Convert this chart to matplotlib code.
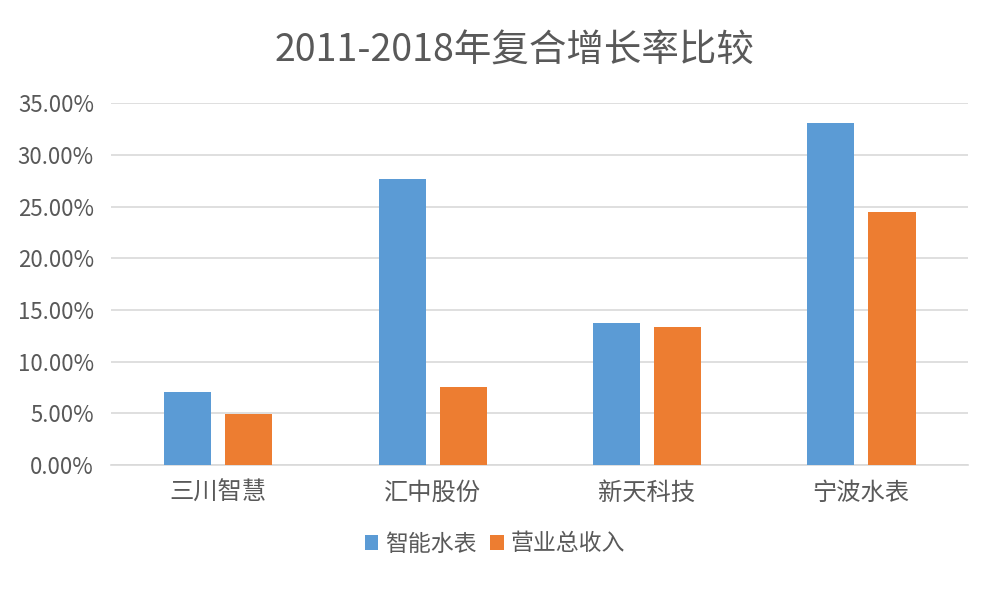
import matplotlib
matplotlib.use("Agg")
import matplotlib.pyplot as plt
import numpy as np
from matplotlib.ticker import FuncFormatter, MultipleLocator

plt.rcParams['font.family'] = ['Noto Sans CJK SC', 'DejaVu Sans']

# data
companies = ['三川智慧', '汇中股份', '新天科技', '宁波水表']
smart_meter = [7.05, 27.65, 13.70, 33.10]
revenue = [4.90, 7.52, 13.30, 24.45]
series_names = ['智能水表', '营业总收入']

blue = '#5b9bd5'
orange = '#ed7d31'
text_color = '#595959'

fig = plt.figure(figsize=(9.96, 5.9), dpi=100)
ax = fig.add_axes([0.111, 0.212, 0.861, 0.613])

x = np.arange(len(companies))
w = 0.22
ax.bar(x - 0.14, smart_meter, w, color=blue, label=series_names[0], zorder=3)
ax.bar(x + 0.145, revenue, w, color=orange, label=series_names[1], zorder=3)

ax.set_xlim(-0.5, 3.5)
ax.set_ylim(0, 35)
ax.yaxis.set_major_locator(MultipleLocator(5))
ax.yaxis.set_major_formatter(FuncFormatter(lambda v, p: f'{v:.2f}%'))
ax.set_xticks(x)
ax.set_xticklabels(companies, fontsize=17.5, color=text_color)
ax.tick_params(axis='y', labelsize=16, labelcolor=text_color, length=0, pad=12)
ax.tick_params(axis='x', length=0, pad=11)

ax.grid(axis='y', color='#d9d9d9', linewidth=1.2, zorder=0)
for s in ['top', 'right', 'left']:
    ax.spines[s].set_visible(False)
ax.spines['bottom'].set_color('#d9d9d9')
ax.spines['bottom'].set_linewidth(1.2)

fig.text(0.517, 0.913, '2011-2018年复合增长率比较', ha='center', va='center',
         fontsize=27, color=text_color)

leg = fig.legend(loc='center', bbox_to_anchor=(0.497, 0.078), ncol=2, frameon=False,
                 fontsize=16.5, handlelength=0.6, handleheight=0.6, handletextpad=0.3,
                 columnspacing=0.6)
for t in leg.get_texts():
    t.set_color(text_color)

fig.savefig('out.png', dpi=100)
